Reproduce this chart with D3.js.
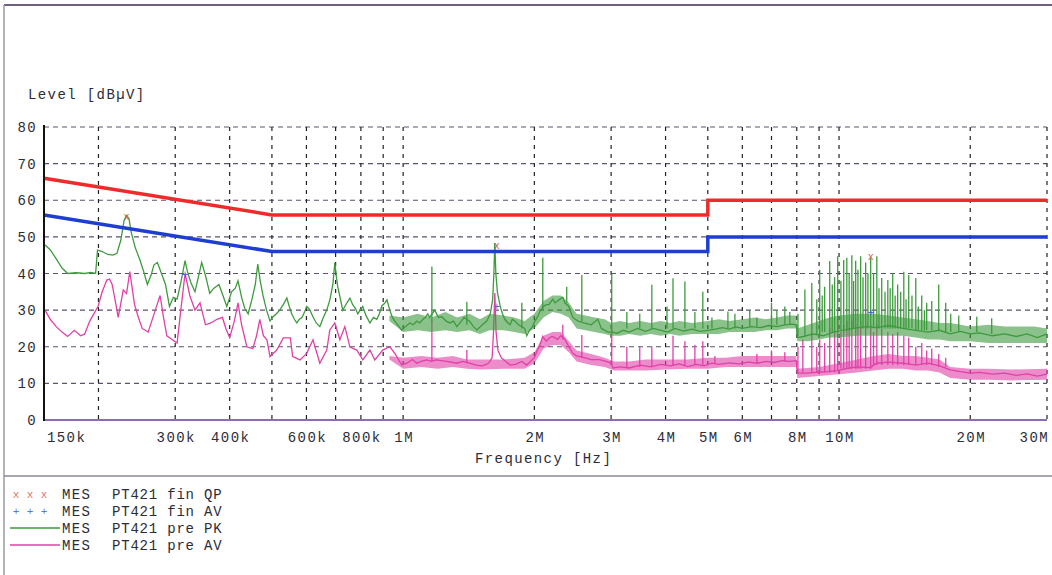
<!DOCTYPE html>
<html>
<head>
<meta charset="utf-8">
<script src="https://cdn.jsdelivr.net/npm/d3@7"></script>
<style>
  body { margin: 0; background: #fff; }
  text { font-family: "Liberation Mono", "DejaVu Sans Mono", monospace; fill: #2c2c38; }
</style>
</head>
<body>
<svg id="chart" width="1052" height="575"></svg>
<script>
// ---- axis data ----
const yTicks = [0, 10, 20, 30, 40, 50, 60, 70, 80];
const xGrid = [0.2, 0.3, 0.4, 0.5, 0.6, 0.7, 0.8, 0.9, 1, 2, 3, 4, 5, 6, 7, 8, 9, 10, 20, 30];
const xTickLabels = [
  [0.15, "150k"], [0.3, "300k"], [0.4, "400k"], [0.6, "600k"], [0.8, "800k"], [1, "1M"],
  [2, "2M"], [3, "3M"], [4, "4M"], [5, "5M"], [6, "6M"], [8, "8M"], [10, "10M"], [20, "20M"], [30, "30M"]
];

// ---- limit lines (MHz, dBuV) ----
const qpLimit = [[0.15, 66], [0.5, 56], [5, 56], [5, 60], [30, 60]];
const avLimit = [[0.15, 56], [0.5, 46], [5, 46], [5, 50], [30, 50]];

// ---- preview peak trace (green) ----
const pkTrace = [
  [0.1508,47.8],[0.155,46.5],[0.160,44],[0.165,41.5],[0.170,40],[0.178,40.2],[0.186,40],[0.192,40.3],[0.197,40],
  [0.199,46.4],[0.204,46],[0.210,45.2],[0.216,45],[0.2205,45.5],[0.225,49],[0.229,54.5],[0.232,55.8],[0.235,55],
  [0.238,51],[0.243,47],[0.249,43.7],[0.254,40.5],[0.259,37],[0.264,39.5],[0.268,42.3],[0.273,43],[0.279,40],
  [0.285,37],[0.291,31],[0.297,33.5],[0.303,33],[0.309,37.5],[0.316,43.5],[0.320,40.5],[0.326,37.5],[0.333,35],
  [0.339,39],[0.345,43],[0.352,39.5],[0.360,34.6],[0.368,36],[0.378,37],[0.386,34],[0.394,31],[0.404,35],
  [0.412,36],[0.418,38],[0.426,33.5],[0.433,30.5],[0.441,29],[0.450,33],[0.458,37],[0.464,42.6],[0.470,38],
  [0.477,34],[0.486,30],[0.495,27],[0.503,28.2],[0.512,29],[0.521,30],[0.531,31.5],[0.541,33.3],[0.548,31],
  [0.555,29],[0.563,27.5],[0.570,26.5],[0.578,27.5],[0.586,28],[0.594,29.5],[0.601,31],[0.610,30.2],[0.621,28.2],
  [0.632,26.5],[0.644,25.5],[0.656,28],[0.668,30],[0.679,32.8],[0.690,37],[0.697,42.9],[0.703,39],[0.708,36.4],
  [0.716,33.7],[0.727,30],[0.735,31],[0.743,32],[0.755,33.3],[0.766,31.5],[0.777,30.5],[0.787,29],[0.797,30],
  [0.808,31],[0.822,28.5],[0.839,26.5],[0.855,28],[0.870,27.5],[0.882,29],[0.894,31.2],[0.906,31.8],[0.918,32.8],
  [0.932,30],[0.945,28],[0.957,27],[0.972,26],[0.993,24.5],[1.012,25.5],[1.036,26.5],[1.055,26],[1.075,27],
  [1.092,26.5],[1.11,27.5],[1.125,28],[1.139,29],[1.15,28],[1.182,30],[1.205,28],[1.227,28.2],[1.255,27],
  [1.28,26.5],[1.305,27],[1.328,25.5],[1.36,27],[1.38,28],[1.42,27],[1.45,25.5],[1.476,24.6],[1.52,26],
  [1.556,27],[1.585,29],[1.605,33],[1.615,40],[1.623,48.3],[1.632,40],[1.645,35],[1.67,31],[1.69,29],
  [1.711,27.5],[1.74,26.5],[1.76,26],[1.78,27.5],[1.804,27],[1.84,26],[1.90,25],[1.921,23],[1.95,24.5],
  [1.98,25.5],[2.005,27],[2.03,28],[2.058,29.5],[2.10,31],[2.13,31.5],[2.16,31.5],[2.204,33],[2.23,32],
  [2.26,32.5],[2.29,33],[2.324,33.5],[2.35,32],[2.40,31],[2.45,28],[2.52,27],[2.60,26.5],[2.70,26],
  [2.796,27.5],[2.85,25],[2.95,24],[3.01,24],[3.1,23.7],[3.2,24.5],[3.3,24],[3.45,25],[3.6,24.2],[3.75,25],
  [3.9,24.5],[4.05,24],[4.2,25],[4.4,24.3],[4.6,24.8],[4.8,24.2],[5.0,24.5],[5.2,24.8],[5.4,25.2],[5.6,24.8],
  [5.8,25.4],[6.0,25],[6.3,25.5],[6.6,25.2],[6.9,25.8],[7.2,25.5],[7.5,26],[7.8,26.2],[7.98,26],[8.02,22.5],
  [8.3,22.8],[8.7,23.5],[9.2,23],[9.7,24],[10.2,24.5],[10.8,25],[11.5,25.5],[12.2,25.2],[13,25.8],[14,25],
  [15,24.5],[16,24],[17,24.5],[18,23.5],[19,24.2],[20,23.5],[21,23.8],[22.5,23],[24,23.5],[25.5,22.8],
  [27,23.5],[28.5,22.5],[30,23.5]
];
// narrow peaks: [MHz, foot dB, top dB]
const pkSpikes = [
  [1.164,27,41.9],[1.40,26,32.3],[1.872,25,32],[2.091,30,44.3],[2.373,32,36.4],[2.57,27,39.6],
  [3.01,24,40],[3.26,25,29.5],[3.49,25,29],[3.72,25,36.9],[4.03,25,31],[4.16,25,38.7],[4.43,25,37.8],
  [4.67,25,29.5],[4.87,25,35],[5.11,25,28],[5.56,25,29.6],[5.77,25,29],[6.24,25.5,30],[6.48,25.5,28],
  [7.0,26,32],[7.2,26,30],[7.51,26,31],[7.71,26,29.5],
  [8.05,23,29],[8.35,23,35.6],[8.66,23,37.4],[8.89,23.5,33],[9.03,23.5,41],[9.15,24,34],[9.27,24,36.4],
  [9.52,24,43.4],[9.65,24,37],[9.77,24,39],[9.93,24,44.7],[10.1,24.5,38],[10.25,24.5,43.7],[10.42,24.5,44.3],
  [10.55,24.5,40],[10.7,25,45],[10.8,25,38],[10.92,25,43.5],[11.05,25,41],[11.21,25,44.7],[11.35,25,39],
  [11.51,25,43],[11.65,25,40],[11.82,25,44.3],[12.0,25,40],[12.21,25,44.7],[12.35,25,36],[12.53,25,38.8],
  [12.75,25,35],[12.94,25,38.2],[13.1,25,36],[13.28,25,40],[13.45,25,34],[13.63,25,37],[13.85,25,35],
  [14.08,25,40.5],[14.25,25,33],[14.45,25,39.6],[14.7,25,34],[15.0,24.5,38.8],[15.2,24.5,31],[15.48,24.5,34],
  [15.7,24.5,30],[15.89,24.5,32],[16.32,24.5,32.5],[16.93,24.5,37],[17.57,24,32],[18.04,24,29],
  [18.82,24,28.5],[20.7,24,28.2],[22.4,23.5,27.8]
];
// dense noise envelope: [MHz, low dB, high dB]
const pkBand = [
  [0.93,27,28.5],[1.0,24,28],[1.08,24.5,29],[1.16,24,28],[1.25,24.5,29.5],[1.33,24,28],[1.42,24.5,29],[1.5,23.5,27.5],
  [1.58,24.5,29],[1.7,24.5,28.5],[1.8,24,28],[1.9,23.5,27],[2.0,25,29],[2.1,28,32.5],[2.2,29.5,34],
  [2.3,29,34],[2.4,28,32],[2.5,25,29],[2.62,24.5,28.5],[2.75,24,28],[2.9,23.5,27.5],[3.0,23,26.5],
  [3.15,23,27],[3.3,23.5,26.5],[3.5,23,27],[3.7,23.5,26.5],[3.9,23,27],[4.1,23.5,26.5],[4.3,23,27],
  [4.6,23.5,26.5],[5,23.5,27],[5.3,23.5,27.5],[5.6,24,27],[6,24,27.5],[6.4,24,28],[6.8,24.5,27.5],
  [7.2,24.5,28],[7.6,25,28.5],[7.98,25,28.5],[8.02,21.5,25],[8.5,21.5,26],[9,22,27],[9.5,22.5,28],
  [10,22.5,28.5],[11,23,29],[12,23,29],[13,23,28.5],[14,23,28],[15,22.5,27.5],[16,22,27],[17,22,26.5],
  [18,21.5,26.5],[19,21.5,26],[20,21.5,25.5],[22,21,26],[24,21,25.5],[26,21,25.5],[28,21,25.5],[30,21,25]
];

// ---- preview average trace (magenta) ----
const avTrace = [
  [0.1508,30],[0.155,27.5],[0.160,25.5],[0.165,24],[0.170,22.8],[0.176,24.5],[0.182,23],[0.186,23.5],[0.191,27],
  [0.1995,31],[0.204,35],[0.209,38.2],[0.212,38.5],[0.215,37],[0.219,32],[0.222,28],[0.226,33],[0.228,35.5],
  [0.232,34.5],[0.236,40.5],[0.239,36],[0.242,31.5],[0.247,28],[0.252,25],[0.260,24],[0.265,27],[0.270,30],
  [0.277,34],[0.282,28],[0.287,23],[0.295,22],[0.303,21],[0.309,30],[0.316,40],[0.320,37],[0.324,34],
  [0.333,30],[0.342,32],[0.347,29],[0.352,26],[0.362,26.5],[0.374,27.5],[0.385,28],[0.392,25],[0.400,22.5],
  [0.410,27],[0.418,32],[0.426,26],[0.438,20],[0.452,19.5],[0.461,23],[0.469,27.5],[0.478,23],[0.487,21.9],
  [0.495,17.3],[0.513,19.1],[0.531,22.4],[0.551,22.4],[0.558,17.3],[0.580,16.4],[0.601,18.2],[0.621,21.9],
  [0.644,15.5],[0.668,19.1],[0.679,24.6],[0.697,26.5],[0.716,21.9],[0.735,25.5],[0.755,19.9],[0.783,19.1],
  [0.808,16.4],[0.839,19.1],[0.861,16.4],[0.898,19.1],[0.932,20],[0.957,18.2],[0.993,15],[1.02,15.5],
  [1.05,16.5],[1.075,15.5],[1.10,16],[1.133,16.4],[1.16,16],[1.19,16.4],[1.26,16],[1.328,15.5],[1.37,16],
  [1.42,15.5],[1.47,15],[1.52,14.8],[1.57,15.5],[1.60,17],[1.612,24],[1.623,34.7],[1.634,24],[1.65,19],
  [1.68,17],[1.72,16],[1.76,15],[1.81,15.2],[1.87,16],[1.92,15],[1.96,16],[2.0,17],[2.03,19],[2.06,20.5],
  [2.09,22.8],[2.13,21.5],[2.17,22.5],[2.2,22.8],[2.26,22],[2.3,23],[2.35,22],[2.40,20],[2.45,18.2],
  [2.5,17.5],[2.6,17],[2.7,16.5],[2.82,16.5],[2.92,16],[3.0,15.5],[3.03,14.2],[3.15,14.5],[3.3,14.2],
  [3.5,15],[3.7,14.5],[3.9,15.2],[4.1,14.8],[4.3,15.3],[4.5,14.6],[4.7,15.2],[4.9,14.8],[5.1,15.5],
  [5.3,15.2],[5.6,15.6],[5.9,15.3],[6.2,15.8],[6.5,15.5],[6.8,16],[7.1,15.7],[7.4,16.2],[7.7,16],
  [7.98,16.2],[8.02,12.8],[8.4,12.8],[8.9,13],[9.4,13.2],[9.93,13.5],[10.4,14],[11,14.5],[11.8,14.3],
  [12.2,15.5],[13,15.8],[14,15.5],[15,15],[16,15.5],[17,14.8],[18,13.7],[19,13.2],[20,12.8],[21,13],
  [22.5,12.5],[24,12.8],[25.5,12.2],[27,12.6],[28.5,12],[30,12.5]
];
const avSpikes = [
  [1.164,16,27.3],[1.40,15.5,19.1],[2.324,22,26],[2.57,17,23.2],[3.01,15,24.6],[3.26,14.5,20],[3.49,14.5,20],
  [3.72,14.5,20],[4.16,15,23],[4.43,15,21.5],[4.67,15,20.5],[4.87,15,21.5],[5.19,15.5,17.5],[6.48,15.5,18],
  [7.0,16,19],[7.51,16,18.5],
  [8.05,13,20],[8.26,13,22],[8.66,13,23.4],[8.89,13,20],[9.03,13,22],[9.27,13,21],[9.52,13,25],[9.77,13,24],
  [9.93,13.5,27.6],[10.1,14,24],[10.25,14,26],[10.42,14,27],[10.55,14,25],[10.7,14,27],[10.92,14,26],
  [11.05,14,25],[11.21,14,27],[11.51,14,26.5],[11.82,14,26],[12.0,15,24],[12.21,15,26],[12.53,15,25],
  [12.94,15,24],[13.28,15,23.5],[13.63,15,24],[14.08,15,23],[14.45,15,22.5],[15.0,15,20],[15.48,15,21],
  [15.89,15,19],[16.32,15,19.5],[16.93,14.5,18],[17.57,14.5,17]
];
const avBand = [
  [0.93,16.5,17.5],[1.0,14,17],[1.1,14.5,17.5],[1.2,14,17],[1.3,14.5,17.5],[1.4,14,16.5],[1.5,13.8,16.5],[1.7,14,16.5],
  [1.9,14,17],[2.0,15.5,18.5],[2.1,19.5,23],[2.2,20.5,24],[2.3,20.5,24],[2.4,18.5,21.5],[2.5,16,19],
  [2.7,15,18],[2.9,14.5,17],[3.05,13.5,16],[3.3,13.5,16],[3.6,13.5,16.5],[4,13.8,16.5],[4.5,14,16.5],
  [5,14,17],[5.5,14.5,17],[6,14.5,17.5],[7,14.5,17.5],[7.98,14.5,17.5],[8.02,11.5,14],[9,12,14.5],
  [10,12.5,15.5],[11,13,16.5],[12,13.5,17.5],[13,14,18],[14,14,17.5],[15,13.5,17.5],[16,13.5,17],
  [17,13,16.5],[18,11.5,14.5],[20,11,14],[22,11,14],[25,10.8,13.8],[30,11,14]
];

// ---- final measurement markers ----
const qpMarks = [[0.232, 55.5], [1.64, 47.5], [11.82, 44.6]];
const avMarks = [[0.316, 40], [1.64, 31], [11.82, 29.5]];

// ---- legend ----
const legendRows = [
  { kind: "x", color: "#e07868", name: "PT421 fin QP" },
  { kind: "+", color: "#5a78d8", name: "PT421 fin AV" },
  { kind: "line", color: "#3d9a3d", name: "PT421 pre PK" },
  { kind: "line", color: "#e040a8", name: "PT421 pre AV" }
];

const svg = d3.select("#chart");
const x = d3.scaleLog().domain([0.15, 30]).range([44, 1047]);
const y = d3.scaleLinear().domain([0, 80]).range([420, 127]);

// page frame
svg.append("line").attr("x1", 4).attr("x2", 1052).attr("y1", 5).attr("y2", 5)
  .attr("stroke", "#6e6080").attr("stroke-width", 2);
svg.append("line").attr("x1", 4).attr("x2", 4).attr("y1", 5).attr("y2", 575)
  .attr("stroke", "#9a9aa6").attr("stroke-width", 1.5);
svg.append("line").attr("x1", 4).attr("x2", 1052).attr("y1", 476).attr("y2", 476)
  .attr("stroke", "#8a8896").attr("stroke-width", 1.5);

// grid
svg.append("g").selectAll("line").data(yTicks.filter(d => d > 0)).join("line")
  .attr("x1", x(0.15)).attr("x2", x(30))
  .attr("y1", d => y(d)).attr("y2", d => y(d))
  .attr("stroke", "#5e5270").attr("stroke-width", 1.1).attr("stroke-dasharray", "5,4");
svg.append("g").selectAll("line").data(xGrid).join("line")
  .attr("x1", d => x(d)).attr("x2", d => x(d))
  .attr("y1", y(80)).attr("y2", y(0))
  .attr("stroke", "#222").attr("stroke-width", 1.2).attr("stroke-dasharray", "4,5");

const line = d3.line().x(d => x(d[0])).y(d => y(d[1]));
const band = d3.area().x(d => x(d[0])).y0(d => y(d[1])).y1(d => y(d[2]));

function drawTrace(trace, spikes, env, color) {
  svg.append("path").datum(env).attr("d", band)
    .attr("fill", color).attr("opacity", 0.6);
  svg.append("g").selectAll("line").data(spikes).join("line")
    .attr("x1", d => x(d[0])).attr("x2", d => x(d[0]))
    .attr("y1", d => y(d[1])).attr("y2", d => y(d[2]))
    .attr("stroke", color).attr("stroke-width", 1.3);
  svg.append("path").datum(trace).attr("d", line)
    .attr("fill", "none").attr("stroke", color).attr("stroke-width", 1.3);
}
drawTrace(avTrace, avSpikes, avBand, "#e040a8");
drawTrace(pkTrace, pkSpikes, pkBand, "#3d9a3d");

// limit lines
svg.append("path").datum(qpLimit).attr("d", line)
  .attr("fill", "none").attr("stroke", "#f02a2a").attr("stroke-width", 3.5);
svg.append("path").datum(avLimit).attr("d", line)
  .attr("fill", "none").attr("stroke", "#1e3ed0").attr("stroke-width", 3.5);

// markers
svg.append("g").selectAll("text").data(qpMarks).join("text")
  .attr("x", d => x(d[0])).attr("y", d => y(d[1]) + 3)
  .attr("text-anchor", "middle").style("font-size", "10px").style("fill", "#c8604a")
  .text("x");
svg.append("g").selectAll("text").data(avMarks).join("text")
  .attr("x", d => x(d[0])).attr("y", d => y(d[1]) + 4)
  .attr("text-anchor", "middle").style("font-size", "11px").style("fill", "#4a68d0")
  .text("+");

// axes
svg.append("line").attr("x1", x(0.15)).attr("x2", x(30)).attr("y1", y(0)).attr("y2", y(0))
  .attr("stroke", "#8e6cb4").attr("stroke-width", 2);
svg.append("line").attr("x1", x(0.15)).attr("x2", x(0.15)).attr("y1", y(80) - 2).attr("y2", y(0) + 1)
  .attr("stroke", "#111").attr("stroke-width", 2);

const labelFont = g => g.style("font-size", "14px").style("letter-spacing", "1.4px");

svg.append("g").selectAll("text").data(yTicks).join("text")
  .attr("x", 37).attr("y", d => y(d) + 5).attr("text-anchor", "end")
  .call(labelFont).text(d => d);

svg.append("g").selectAll("text").data(xTickLabels).join("text")
  .attr("x", d => d[0] === 0.15 ? x(d[0]) + 3 : (d[0] === 30 ? x(d[0]) + 2 : x(d[0]) + 1))
  .attr("y", 442)
  .attr("text-anchor", d => d[0] === 0.15 ? "start" : (d[0] === 30 ? "end" : "middle"))
  .call(labelFont).text(d => d[1]);

svg.append("text").attr("x", 475).attr("y", 463).call(labelFont).text("Frequency [Hz]");
svg.append("text").attr("x", 28).attr("y", 99).call(labelFont).text("Level [dB\u00b5V]");

// legend
const rowY = [494, 511, 528, 545];
const leg = svg.append("g").selectAll("g").data(legendRows).join("g")
  .attr("transform", (d, i) => `translate(0,${rowY[i]})`);
leg.filter(d => d.kind === "line").append("line")
  .attr("x1", 10).attr("x2", 60).attr("y1", 0).attr("y2", 0)
  .attr("stroke", d => d.color).attr("stroke-width", 1.5);
leg.filter(d => d.kind !== "line").selectAll("text.sym")
  .data(d => [16, 30, 44].map(px => ({ px, d }))).join("text")
  .attr("class", "sym").attr("x", s => s.px).attr("y", 4)
  .attr("text-anchor", "middle").style("font-size", "11px")
  .style("fill", s => s.d.color).text(s => s.d.kind);
leg.append("text").attr("x", 62).attr("y", 5).call(labelFont).text("MES");
leg.append("text").attr("x", 112).attr("y", 5).style("font-size", "14px").style("letter-spacing", "0.8px")
  .text(d => d.name);
</script>
</body>
</html>
